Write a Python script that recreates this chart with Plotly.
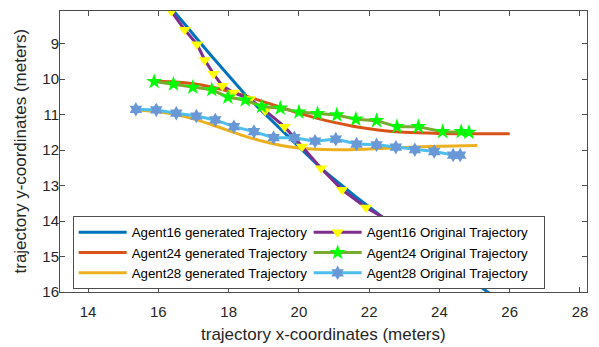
import plotly.graph_objects as go

# ---- data ----
gen16_x = [16.41, 17.45, 18.5, 19.6, 20.68, 21.6, 22.52, 23.96, 25.41, 25.8]
gen16_y = [8.05, 9.28, 10.47, 11.52, 12.56, 13.3, 14.0, 15.0, 16.03, 16.3]

gen24_x = [15.88, 16.5, 17.0, 17.5, 18.0, 18.5, 19.0, 19.5, 20.0, 20.5, 21.0, 21.5, 22.0, 22.5, 23.0, 24.0, 25.0, 26.0]
gen24_y = [10.06, 10.08, 10.13, 10.22, 10.34, 10.48, 10.64, 10.8, 10.96, 11.1, 11.22, 11.32, 11.4, 11.46, 11.5, 11.53, 11.54, 11.54]

gen28_x = [15.36, 16.0, 16.5, 17.0, 17.5, 18.0, 18.5, 19.0, 19.5, 20.0, 21.0, 22.0, 23.0, 24.0, 25.08]
gen28_y = [10.87, 10.92, 11.0, 11.12, 11.28, 11.45, 11.62, 11.76, 11.87, 11.94, 11.99, 11.97, 11.93, 11.89, 11.87]

orig16_x = [16.37, 16.75, 17.1, 17.32, 17.57, 17.82, 18.14, 18.61, 19.04, 19.59, 20.09, 20.63, 21.23, 21.91, 22.52, 23.2]
orig16_y = [8.09, 8.61, 9.02, 9.46, 9.85, 10.19, 10.38, 10.56, 10.89, 11.34, 11.9, 12.51, 13.12, 13.62, 13.97, 14.5]

orig24_x = [15.88, 16.43, 16.98, 17.52, 17.98, 18.47, 18.94, 19.47, 20.0, 20.53, 21.08, 21.62, 22.21, 22.79, 23.4, 24.09, 24.62, 24.84]
orig24_y = [10.07, 10.14, 10.23, 10.3, 10.51, 10.59, 10.77, 10.82, 10.93, 10.97, 11.01, 11.13, 11.17, 11.34, 11.34, 11.48, 11.48, 11.5]

orig28_x = [15.36, 15.94, 16.51, 17.08, 17.62, 18.15, 18.72, 19.28, 19.87, 20.46, 21.05, 21.64, 22.21, 22.76, 23.3, 23.85, 24.39, 24.59]
orig28_y = [10.85, 10.87, 10.96, 11.04, 11.15, 11.34, 11.48, 11.65, 11.65, 11.75, 11.69, 11.83, 11.85, 11.92, 11.99, 12.04, 12.14, 12.14]

x_ticks = [14, 16, 18, 20, 22, 24, 26, 28]
y_ticks = [9, 10, 11, 12, 13, 14, 15, 16]

x_title = "trajectory x-coordinates (meters)"
y_title = "trajectory y-coordinates (meters)"

FONT = "Liberation Sans, Arial, sans-serif"
LW = 3

fig = go.Figure()

def add_line(x, y, name, color, rank, shape="spline"):
    fig.add_trace(go.Scatter(x=x, y=y, mode="lines", name=name, legendrank=rank,
                             line=dict(color=color, width=LW, shape=shape, smoothing=0.8)))

def add_orig(x, y, name, color, msym, mcolor, msize, rank):
    fig.add_trace(go.Scatter(x=x, y=y, mode="lines+markers", name=name, legendrank=rank,
                             line=dict(color=color, width=LW),
                             marker=dict(symbol=msym, color=mcolor, size=msize,
                                         line=dict(width=0))))

add_line(gen16_x, gen16_y, "Agent16 generated Trajectory", "#0072BD", 1, shape="linear")
add_line(gen24_x, gen24_y, "Agent24 generated Trajectory", "#D95319", 3)
add_line(gen28_x, gen28_y, "Agent28 generated Trajectory", "#EDB120", 5)
add_orig(orig16_x, orig16_y, "Agent16 Original Trajectory", "#7E2F8E", "triangle-down", "#FFFF00", 11, 2)
add_orig(orig24_x, orig24_y, "Agent24 Original Trajectory", "#77AC30", "star", "#00FF00", 12, 4)
add_orig(orig28_x, orig28_y, "Agent28 Original Trajectory", "#4DBEEE", "hexagram", "#6A98D6", 11, 6)

axis_common = dict(showgrid=False, zeroline=False, showline=True, linecolor="#4d4d4d",
                   linewidth=1, mirror="ticks", ticks="inside", ticklen=5, automargin=False,
                   tickcolor="#4d4d4d", tickfont=dict(family=FONT, size=15, color="#262626"))

fig.update_layout(
    width=599, height=347,
    margin=dict(l=60, r=12, t=11, b=55),
    paper_bgcolor="white", plot_bgcolor="white",
    font=dict(family=FONT, color="#262626"),
    xaxis=dict(range=[13.2, 28.2], tickvals=x_ticks, ticklabelstandoff=6, **axis_common),
    yaxis=dict(range=[16.0, 8.08], tickvals=y_ticks, ticklabelstandoff=-3, **axis_common),
    legend=dict(orientation="h", x=0.024, y=0.270, xanchor="left", yanchor="top",
                entrywidth=172, entrywidthmode="pixels", itemwidth=48,
                bgcolor="white", bordercolor="#4d4d4d", borderwidth=1,
                font=dict(family=FONT, size=13.3, color="#000000"),
                tracegroupgap=0, traceorder="normal"),
    showlegend=True,
    annotations=[
        dict(text=x_title, xref="paper", yref="paper", x=0.5, y=0, yshift=-42,
             xanchor="center", yanchor="middle", showarrow=False,
             font=dict(family=FONT, size=17, color="#262626")),
        dict(text=y_title, xref="paper", yref="paper", x=0, y=0.5, xshift=-40,
             xanchor="center", yanchor="middle", textangle=-90, showarrow=False,
             font=dict(family=FONT, size=17, color="#262626")),
    ],
)

fig.write_html("out.html", config={"displayModeBar": False},
               post_script="document.body.style.margin='0';")
